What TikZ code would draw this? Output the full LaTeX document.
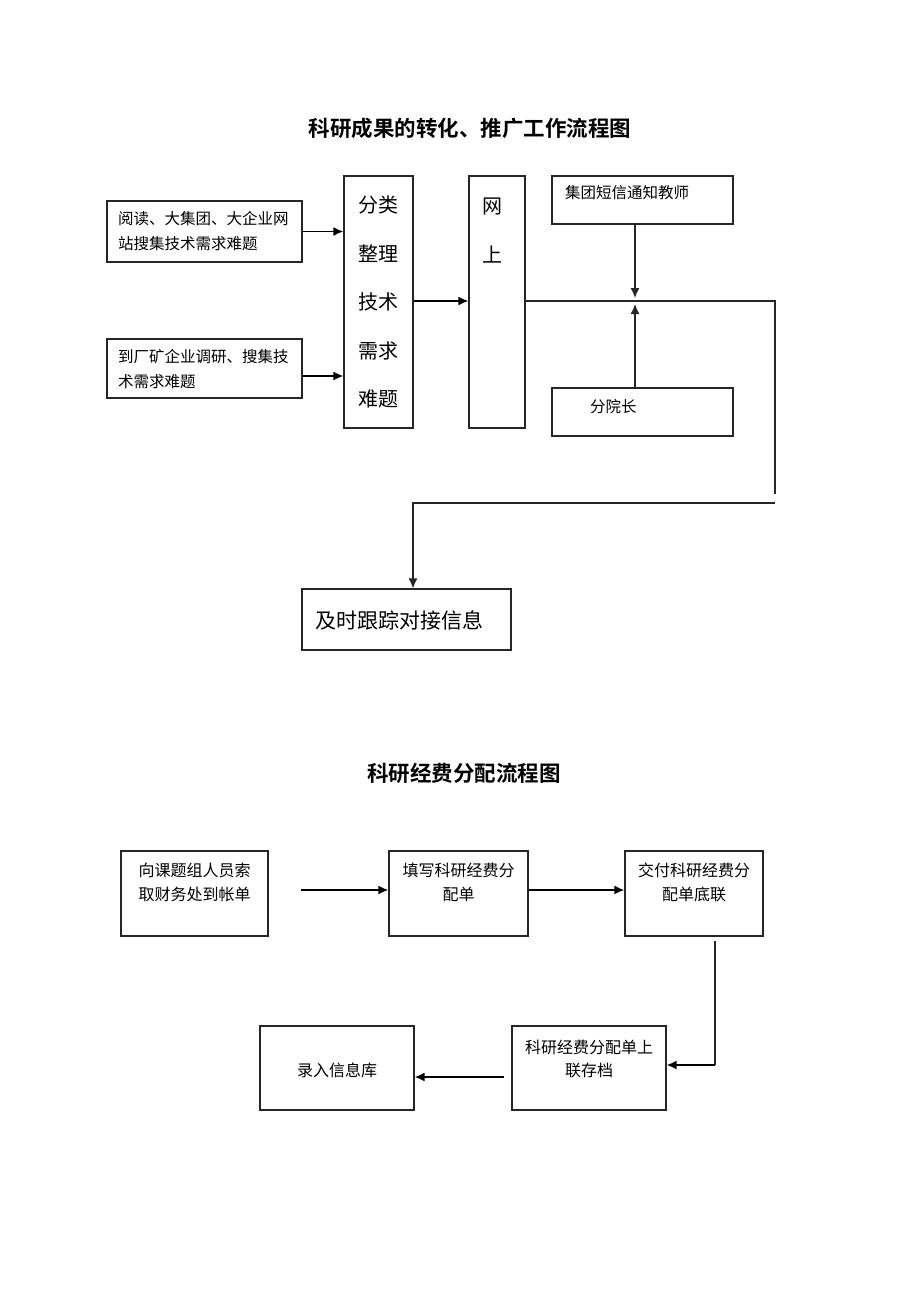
\documentclass[tikz,border=0pt]{standalone}
\usepackage{fontspec}
\setmainfont{Noto Sans CJK SC}[BoldFont={Noto Sans CJK SC Bold}]
\usetikzlibrary{arrows.meta}
\begin{document}
\begin{tikzpicture}[x=1pt,y=-1pt,
  box/.style={draw=black!85,line width=1.1pt,inner sep=0pt},
  txt/.style={inner sep=0pt,font=\fontsize{15.5}{25}\selectfont},
  ttl/.style={inner sep=0pt,font=\fontsize{21.5}{24}\selectfont\bfseries},
  arr/.style={line width=1.8pt,-{Latex[length=10pt,width=9pt]}},
  thin/.style={line width=1.1pt,draw=black!85},
  thinarr/.style={line width=1.4pt,draw=black!85,-{Latex[length=10pt,width=9pt]}}]
\useasboundingbox[fill=white] (0,0) rectangle (920,1302);
% ---------- chart 1 ----------
\node[ttl] (t1) at (470,128) {科研成果的转化、推广工作流程图};
\node[box,minimum width=195,minimum height=61] (a1) at (204.5,231.5) {};
\node[txt,anchor=west,align=left] (a1t) at (118,231.5) {阅读、大集团、大企业网\\站搜集技术需求难题};
\node[box,minimum width=195,minimum height=59] (a2) at (204.5,368.5) {};
\node[txt,anchor=west,align=left] (a2t) at (118,369) {到厂矿企业调研、搜集技\\术需求难题};
\node[box,minimum width=69,minimum height=252] (b) at (378.5,302) {};
\node[inner sep=0pt,align=center,font=\fontsize{20}{48.5}\selectfont] (bt) at (378.5,302) {分类\\整理\\技术\\需求\\难题};
\node[box,minimum width=56,minimum height=252] (c) at (497,302) {};
\node[inner sep=0pt,align=center,font=\fontsize{20}{49}\selectfont] (ct) at (492,230.5) {网\\上};
\node[box,minimum width=181,minimum height=48] (d) at (642.5,200) {};
\node[txt,anchor=west] (dt) at (565,193) {集团短信通知教师};
\node[box,minimum width=181,minimum height=48] (e) at (642.5,412) {};
\node[txt,anchor=west] (et) at (590,407) {分院长};
\node[box,minimum width=209,minimum height=61] (f) at (406.5,619.5) {};
\node[inner sep=0pt,anchor=west,font=\fontsize{21}{24}\selectfont] (ft) at (315,620) {及时跟踪对接信息};
\draw[arr] (a1.east) -- (a1.east -| b.west);
\draw[arr] (a2.east |- 0,376) -- (b.west |- 0,376);
\draw[arr] (b.east |- 0,301) -- (c.west |- 0,301);
\coordinate (r1) at (775,301);
\coordinate (r2) at (775,494);
\coordinate (r3) at (775,503);
\coordinate (r4) at (413,503);
\coordinate (m1) at (635,298);
\coordinate (m2) at (635,304);
\draw[thin] (c.east |- r1) -- (r1) -- (r2);
\draw[thinarr] (r3) -- (r4) -- (r4 |- f.north);
\draw[thinarr] (d.south -| m1) -- (m1);
\draw[thinarr] (e.north -| m2) -- (m2);
% ---------- chart 2 ----------
\node[ttl] (t2) at (464,773) {科研经费分配流程图};
\node[box,minimum width=147,minimum height=85] (g) at (194.5,893.5) {};
\node[txt,align=center,font=\fontsize{16}{24}\selectfont] (gt) at (194.5,882) {向课题组人员索\\取财务处到帐单};
\node[box,minimum width=139,minimum height=85] (h) at (458.5,893.5) {};
\node[txt,align=center,font=\fontsize{16}{24}\selectfont] (ht) at (458.5,882) {填写科研经费分\\配单};
\node[box,minimum width=138,minimum height=85] (i) at (694,893.5) {};
\node[txt,align=center,font=\fontsize{16}{24}\selectfont] (it) at (694,882) {交付科研经费分\\配单底联};
\node[box,minimum width=154,minimum height=84] (j) at (589,1068) {};
\node[txt,align=center,font=\fontsize{16}{23}\selectfont] (jt) at (589,1058.5) {科研经费分配单上\\联存档};
\node[box,minimum width=154,minimum height=84] (k) at (337,1068) {};
\node[txt,font=\fontsize{16}{23}\selectfont] (kt) at (337,1070) {录入信息库};
\coordinate (g1) at (301,890);
\draw[arr] (g1) -- (h.west |- g1);
\draw[arr] (h.east |- g1) -- (i.west |- g1);
\coordinate (v1) at (715,941);
\coordinate (v2) at (715,1065);
\draw[thin] (v1) -- (v2);
\draw[arr] (v2) -- (j.east |- v2);
\coordinate (j1) at (504,1077);
\draw[arr] (j1) -- (k.east |- j1);
\end{tikzpicture}
\end{document}
